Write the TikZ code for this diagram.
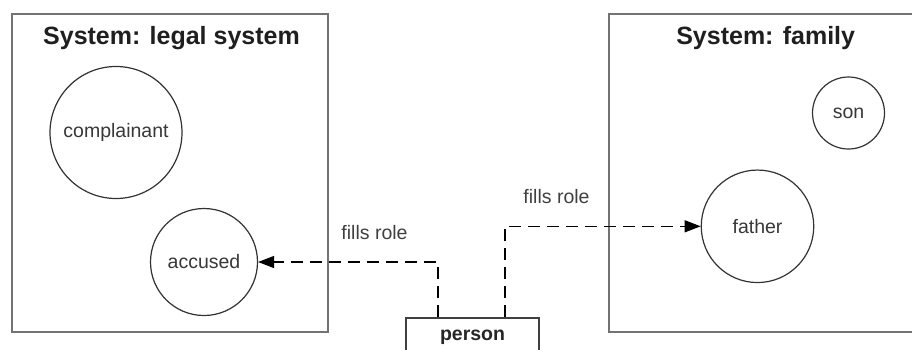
\documentclass[tikz,border=0pt]{standalone}
\usepackage{fontspec}
\setmainfont{Liberation Sans}
\usetikzlibrary{arrows.meta}
\begin{document}
\begin{tikzpicture}[x=1pt,y=-1pt,
  sysbox/.style={draw=black!55,line width=2pt,rectangle,inner sep=0pt},
  systitle/.style={font=\fontsize{25}{28}\selectfont\bfseries,text=black!88},
  role/.style={draw=black!80,line width=1.2pt,circle,inner sep=0pt,font=\fontsize{19.5}{22}\selectfont,text=black!78},
  lbl/.style={font=\fontsize{19.5}{22}\selectfont,text=black!75},
  conn/.style={line width=1.3pt,dash pattern=on 12pt off 7pt,-{Triangle[length=16pt,width=12pt]}}
]
\useasboundingbox (0,0) rectangle (912,349);
\clip (0,0) rectangle (912,349);
\fill[white] (0,0) rectangle (912,349);
% system boxes
\node[sysbox,minimum width=316pt,minimum height=318pt] (legal) at (170,173) {};
\node[sysbox,minimum width=313pt,minimum height=318pt] (family) at (765.5,173) {};
\node[systitle] (legaltitle) at (171.5,38.5) {System: legal system};
\node[systitle] (familytitle) at (765.7,38.5) {System: family};
% roles
\node[role,minimum size=132pt] (complainant) at (116,132.5) {complainant};
\node[role,minimum size=107pt] (accused) at (204,262) {accused};
\node[role,minimum size=72pt] (son) at (848.5,113) {son};
\node[role,minimum size=112.5pt] (father) at (757.5,226.3) {father};
% person
\node[draw=black!75,line width=1.5pt,rectangle,anchor=north,minimum width=133pt,inner xsep=0pt,inner ysep=3pt,text height=19.5pt,text depth=24pt,font=\fontsize{19.5}{22}\selectfont\bfseries,text=black!85] (person) at (472.5,317) {person};
% connectors
\coordinate (p1) at (438,317);
\coordinate (p2) at (505,317);
\draw[conn] (p1) |- (accused.east);
\draw[conn] (p2) |- (father.west);
\node[lbl] (l1) at (374.5,233) {fills role};
\node[lbl] (l2) at (556.5,197) {fills role};
\end{tikzpicture}
\end{document}
